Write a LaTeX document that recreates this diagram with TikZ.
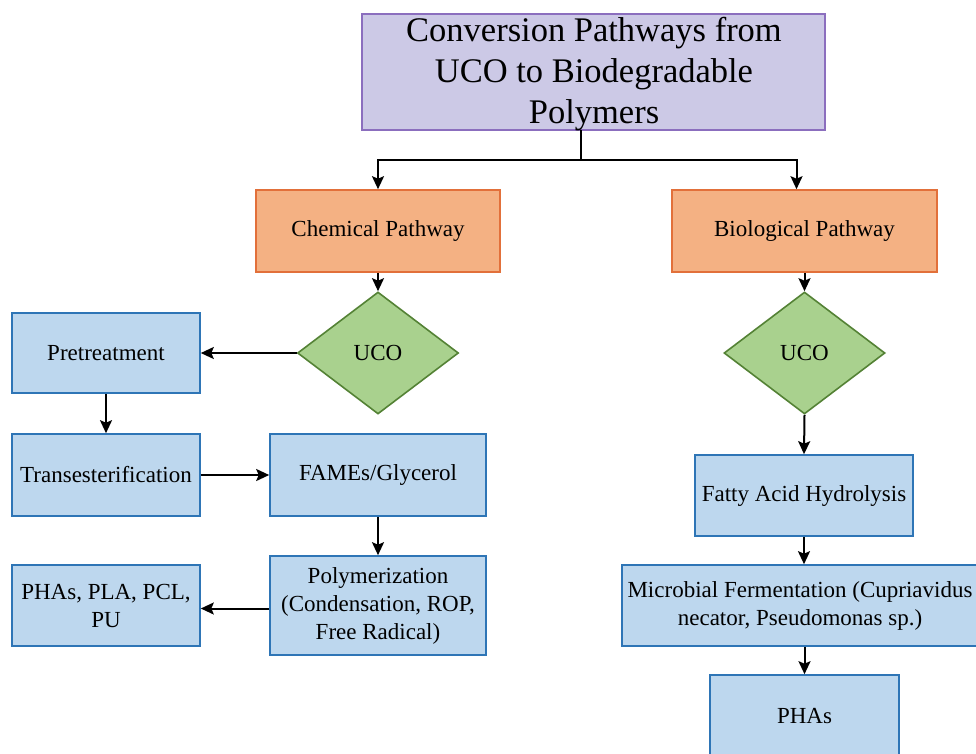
\documentclass[tikz,border=0pt]{standalone}
\usepackage{fontspec}
\setmainfont{Liberation Serif}
\usetikzlibrary{shapes.geometric,arrows.meta}
\definecolor{titleF}{RGB}{204,201,230}
\definecolor{titleD}{RGB}{139,110,190}
\definecolor{orF}{RGB}{244,177,131}
\definecolor{orD}{RGB}{226,112,58}
\definecolor{grF}{RGB}{169,209,142}
\definecolor{grD}{RGB}{84,130,53}
\definecolor{blF}{RGB}{189,215,238}
\definecolor{blD}{RGB}{46,117,182}
\tikzset{
  base/.style={inner sep=0pt, align=center, font=\fontsize{23}{28}\selectfont, line width=1.6pt},
  orbox/.style={base, draw=orD, fill=orF},
  blbox/.style={base, draw=blD, fill=blF},
  dmd/.style={base, shape=diamond, draw=grD, fill=grF, minimum width=161pt, minimum height=122pt},
  arr/.style={line width=2pt, -{Stealth[length=13pt,width=12pt,inset=2.5pt]}}
}
\begin{document}
\begin{tikzpicture}[x=1pt,y=-1pt]
\clip (0,0) rectangle (976,754);
\fill[white] (0,0) rectangle (976,754);
% title
\node[base, draw=titleD, fill=titleF, minimum width=463pt, minimum height=116pt] (title) at (593.5,72) {};
\node[inner sep=0pt, align=center, font=\fontsize{34.5}{41}\selectfont] (ttext) at (594,74) {Conversion Pathways from\\UCO to Biodegradable\\Polymers};
% pathways
\node[orbox, minimum width=244pt, minimum height=82pt] (chem) at (378,231) {Chemical Pathway};
\node[orbox, minimum width=265pt, minimum height=82pt] (bio) at (804.5,231) {Biological Pathway};
% diamonds
\node[dmd] (uco1) at (378,353) {UCO};
\node[dmd] (uco2) at (804.5,353) {UCO};
% left chain
\node[blbox, minimum width=188pt, minimum height=80pt] (pre) at (106,353) {Pretreatment};
\node[blbox, minimum width=188pt, minimum height=82pt] (trans) at (106,475) {Transesterification};
\node[blbox, minimum width=216pt, minimum height=82pt] (fame) at (378,475) {FAMEs/Glycerol};
\node[blbox, minimum width=216pt, minimum height=99pt] (poly) at (378,605.5) {Polymerization\\(Condensation, ROP,\\Free Radical)};
\node[blbox, minimum width=188pt, minimum height=81pt] (plt) at (106,605.5) {PHAs, PLA, PCL,\\PU};
% right chain
\node[blbox, minimum width=218pt, minimum height=81pt] (fah) at (804,495.5) {Fatty Acid Hydrolysis};
\node[blbox, minimum width=356pt, minimum height=81pt] (mic) at (800,605.5) {Microbial Fermentation (Cupriavidus\\necator, Pseudomonas sp.)};
\node[blbox, minimum width=189pt, minimum height=82pt] (pha) at (804.5,716) {PHAs};
% connectors
\coordinate (t1) at (581,130);
\draw[arr] (t1) -- ++(0,30) -| (chem.north);
\draw[arr] (t1) -- ++(0,30) -| ([xshift=-8pt]bio.north);
\draw[arr] (chem.south) -- (uco1.north);
\draw[arr] (bio.south) -- (uco2.north);
\draw[arr] (uco1.west) -- (pre.east);
\draw[arr] (pre.south) -- (trans.north);
\draw[arr] (trans.east) -- (fame.west);
\draw[arr] (fame.south) -- (poly.north);
\draw[arr] ([yshift=-3pt]poly.west) -- ([yshift=-3pt]plt.east);
\draw[arr] (uco2.south) -- (fah.north);
\draw[arr] (fah.south) -- (mic.north -| fah.south);
\draw[arr] (mic.south -| pha.north) -- (pha.north);
\end{tikzpicture}
\end{document}
